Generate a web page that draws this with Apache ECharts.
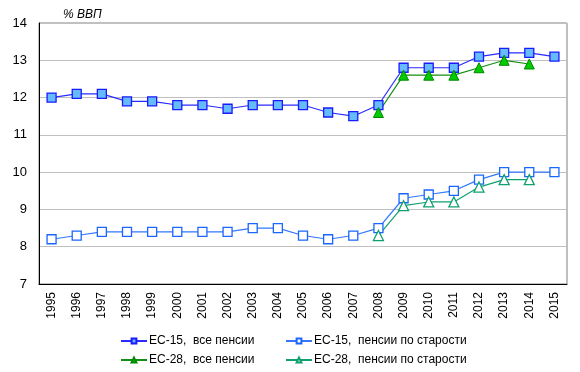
<!DOCTYPE html>
<html><head><meta charset="utf-8">
<script src="https://cdn.jsdelivr.net/npm/echarts@6/dist/echarts.min.js"></script>
<style>html,body{margin:0;padding:0;background:#fff}#c{width:580px;height:372px}</style>
</head><body><div id="c"></div>
<script>
const years = ['1995','1996','1997','1998','1999','2000','2001','2002','2003','2004','2005','2006','2007','2008','2009','2010','2011','2012','2013','2014','2015'];
const ec15All = [12.0,12.1,12.1,11.9,11.9,11.8,11.8,11.7,11.8,11.8,11.8,11.6,11.5,11.8,12.8,12.8,12.8,13.1,13.2,13.2,13.1];
const ec15Old = [8.2,8.3,8.4,8.4,8.4,8.4,8.4,8.4,8.5,8.5,8.3,8.2,8.3,8.5,9.3,9.4,9.5,9.8,10.0,10.0,10.0];
const ec28All = [null,null,null,null,null,null,null,null,null,null,null,null,null,11.6,12.6,12.6,12.6,12.8,13.0,12.9,null];
const ec28Old = [null,null,null,null,null,null,null,null,null,null,null,null,null,8.3,9.1,9.2,9.2,9.6,9.8,9.8,null];
const names = ['ЕС-15,  все пенсии','ЕС-15,  пенсии по старости','ЕС-28,  все пенсии','ЕС-28,  пенсии по старости'];

const chart = echarts.init(document.getElementById('c'));
const font = 'Arial, "Liberation Sans", sans-serif';
function leg(name, left, top){
  return {data:[name], left:left, top:top, itemWidth:26, itemHeight:6, itemGap:0,
    textStyle:{fontFamily:font, fontSize:12, color:'#000', padding:[0,0,0,-3]}, selectedMode:false, padding:0};
}
chart.setOption({
  animation:false,
  title:{text:'% ВВП', left:58, top:4, textStyle:{fontFamily:font, fontSize:12, fontStyle:'italic', fontWeight:'normal', color:'#000'}},
  grid:{left:39, right:13, top:23, bottom:88, show:true, borderColor:'#808080', borderWidth:1},
  legend:[leg(names[0],120,335), leg(names[1],285,335), leg(names[2],120,354), leg(names[3],285,354)],
  xAxis:{type:'category', data:years, boundaryGap:true,
    axisLine:{lineStyle:{color:'#000'}}, axisTick:{show:false},
    axisLabel:{rotate:90, fontFamily:font, fontSize:12, color:'#000', margin:8, interval:0}},
  yAxis:{type:'value', min:7, max:14, interval:1,
    axisLine:{show:true, lineStyle:{color:'#000'}}, axisTick:{show:false},
    axisLabel:{fontFamily:font, fontSize:13, color:'#000', margin:12},
    splitLine:{lineStyle:{color:'#c0c0c0'}}},
  series:[
    {name:names[0], type:'line', data:ec15All, symbol:'rect', symbolSize:9,
      lineStyle:{color:'#2a2aff', width:1.2}, itemStyle:{color:'#66bbff', borderColor:'#1a1aff', borderWidth:1.3}},
    {name:names[1], type:'line', data:ec15Old, symbol:'rect', symbolSize:9,
      lineStyle:{color:'#3377ff', width:1.2}, itemStyle:{color:'#ffffff', borderColor:'#1a66ff', borderWidth:1.3}},
    {name:names[2], type:'line', data:ec28All, symbol:'triangle', symbolSize:10,
      lineStyle:{color:'#109010', width:1.2}, itemStyle:{color:'#00cc00', borderColor:'#008800', borderWidth:1}},
    {name:names[3], type:'line', data:ec28Old, symbol:'triangle', symbolSize:10,
      lineStyle:{color:'#10a070', width:1.2}, itemStyle:{color:'#ffffff', borderColor:'#10a070', borderWidth:1.3}}
  ]
});
</script></body></html>
